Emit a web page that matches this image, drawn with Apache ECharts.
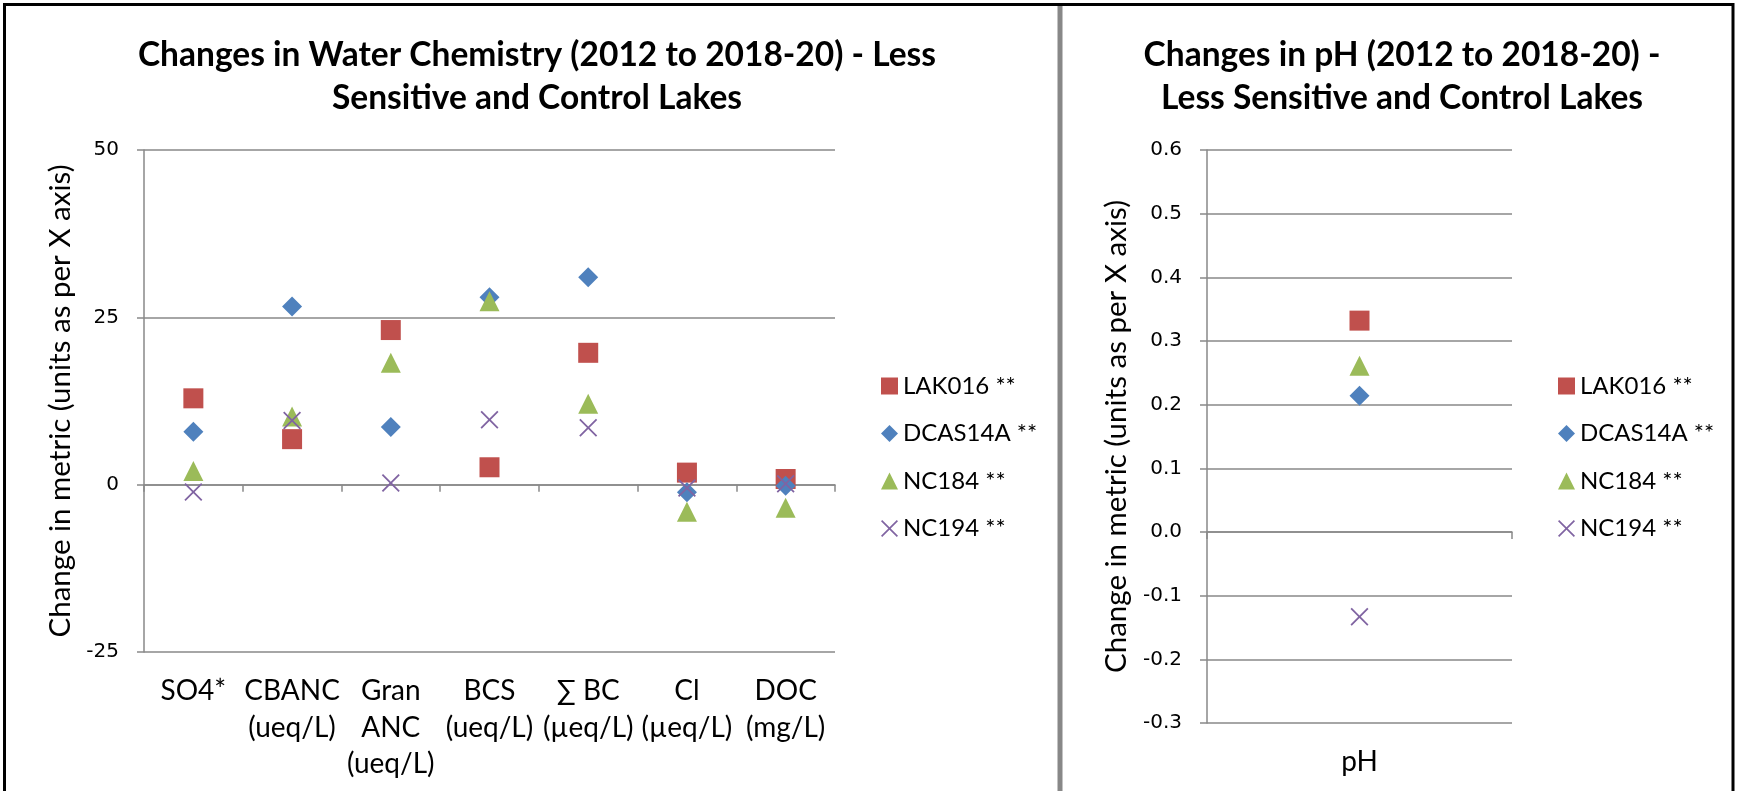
<!DOCTYPE html>
<html><head><meta charset="utf-8">
<script src="https://cdn.jsdelivr.net/npm/echarts@6/dist/echarts.min.js"></script>
<style>html,body{margin:0;padding:0;background:#fff}#c{width:1737px;height:791px}</style>
</head><body><div id="c"></div>
<script>
const categories = ['SO4*', 'CBANC\n(ueq/L)', 'Gran\nANC\n(ueq/L)', 'BCS\n(ueq/L)', '\u2211 BC\n(\u00b5eq/L)', 'Cl\n(\u00b5eq/L)', 'DOC\n(mg/L)'];
const seriesNames = ['LAK016 **', 'DCAS14A **', 'NC184 **', 'NC194 **'];
const LAK016 = [12.9, 6.8, 23.1, 2.6, 19.7, 1.8, 0.85];
const DCAS14A = [7.9, 26.6, 8.6, 28.0, 31.0, -1.15, -0.15];
const NC184 = [2.05, 10.2, 18.2, 27.4, 12.1, -4.05, -3.45];
const NC194 = [-1.1, 9.6, 0.25, 9.7, 8.5, -0.5, 0.15];
const phCategories = ['pH'];
const phLAK016 = [0.332];
const phDCAS14A = [0.214];
const phNC184 = [0.261];
const phNC194 = [-0.133];
const leftTicks = {min: -25, max: 50, interval: 25};
const rightTicks = {min: -0.3, max: 0.6, interval: 0.1};

const GRAY = '#898989';
const LW = 1.5;
const XPATH = 'path://M0,7L7,0L50,43L93,0L100,7L57,50L100,93L93,100L50,57L7,100L0,93L43,50Z';
const symbols = ['rect', 'diamond', 'triangle', XPATH];
const sizes = [20, 20, 20, 18];
const colors = ['#C0504D', '#4F81BD', '#9BBB59', '#8064A2'];
const leftData = [LAK016, DCAS14A, NC184, NC194];
const rightData = [phLAK016, phDCAS14A, phNC184, phNC194];

function xAxes(grid, cats) {
  return [
    {gridIndex: grid, type: 'category', data: cats, position: 'bottom',
     axisLine: {show: false, onZero: false}, axisTick: {show: false}, splitLine: {show: false},
     axisLabel: {interval: 0, margin: 21, fontFamily: 'Lato', fontSize: 28, lineHeight: 36.5, color: '#000'}},
    {gridIndex: grid, type: 'category', data: cats, position: 'top',
     axisLine: {show: true, onZero: true, lineStyle: {color: GRAY, width: LW}},
     axisTick: {show: true, inside: true, length: 7, lineStyle: {color: GRAY, width: LW}},
     axisLabel: {show: false}, splitLine: {show: false}}
  ];
}
function yAxis(grid, t, gap, fmt) {
  return {gridIndex: grid, type: 'value', min: t.min, max: t.max, interval: t.interval,
    name: 'Change in metric (units as per X axis)', nameLocation: 'middle', nameGap: gap,
    nameTextStyle: {fontFamily: 'Lato', fontSize: 29.5, lineHeight: 36, color: '#000'},
    axisLine: {show: true, lineStyle: {color: GRAY, width: LW}},
    axisTick: {show: true, length: 7, lineStyle: {color: GRAY, width: LW}},
    splitLine: {show: true, lineStyle: {color: GRAY, width: LW}},
    axisLabel: {margin: 25, fontFamily: 'DejaVu Sans', fontSize: 20, color: '#000', formatter: fmt}};
}
const series = [];
seriesNames.forEach((n, i) => {
  series.push({name: n, type: 'scatter', xAxisIndex: 0, yAxisIndex: 0, data: leftData[i],
    symbol: symbols[i], symbolSize: sizes[i], itemStyle: {color: colors[i], opacity: 1}});
});
seriesNames.forEach((n, i) => {
  series.push({name: n, type: 'scatter', xAxisIndex: 2, yAxisIndex: 1, data: rightData[i],
    symbol: symbols[i], symbolSize: sizes[i], itemStyle: {color: colors[i], opacity: 1}});
});
const legendBase = {data: seriesNames, orient: 'vertical', top: 369, itemWidth: 17, itemHeight: 17, itemGap: 23.5,
  selectedMode: false, textStyle: {fontFamily: 'Lato', fontSize: 24, color: '#000'}};
const titleStyle = {fontFamily: 'Lato', fontWeight: 'bold', fontSize: 33.5, lineHeight: 43, color: '#000'};
const option = {
  animation: false,
  backgroundColor: '#fff',
  title: [
    {text: 'Changes in Water Chemistry (2012 to 2018-20) - Less\nSensitive and Control Lakes', left: 532, top: 29, textAlign: 'center', textStyle: titleStyle},
    {text: 'Changes in pH (2012 to 2018-20) -\nLess Sensitive and Control Lakes', left: 1397, top: 29, textAlign: 'center', textStyle: titleStyle}
  ],
  grid: [
    {left: 144, top: 150, width: 691, height: 502},
    {left: 1207, top: 150, width: 305, height: 573}
  ],
  xAxis: xAxes(0, categories).concat(xAxes(1, phCategories)),
  yAxis: [
    yAxis(0, leftTicks, 66, v => String(v)),
    yAxis(1, rightTicks, 73, v => v.toFixed(1))
  ],
  legend: [Object.assign({left: 876}, legendBase), Object.assign({left: 1553}, legendBase)],
  graphic: [
    {type: 'rect', shape: {x: 1057.5, y: 4, width: 5, height: 800}, style: {fill: '#888'}},
    {type: 'rect', shape: {x: 4.5, y: 4.5, width: 1728.5, height: 800}, style: {fill: 'none', stroke: '#000', lineWidth: 3}}
  ],
  series: series
};
const chart = echarts.init(document.getElementById('c'), null, {renderer: 'canvas'});
chart.setOption(option);
</script></body></html>
